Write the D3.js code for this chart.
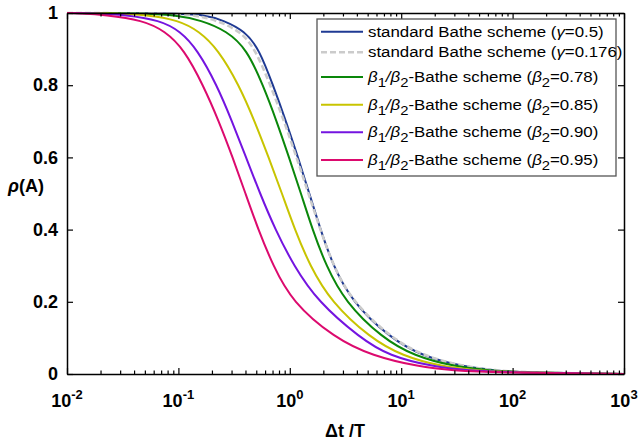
<!DOCTYPE html>
<html>
<head>
<meta charset="utf-8">
<script src="https://cdn.jsdelivr.net/npm/d3@7"></script>
<style>
  body { margin: 0; background: #fff; }
  svg { display: block; font-family: "Liberation Sans", Arial, sans-serif; }
</style>
</head>
<body>
<svg id="chart" width="638" height="445"></svg>
<script>
// spectral radius levels, and the dt/T at which each curve crosses them
const rhoLevels = [1, 0.999, 0.995, 0.98, 0.95, 0.9, 0.8, 0.7, 0.6, 0.5, 0.4, 0.3, 0.2, 0.1, 0.05, 0.02, 0.01, 0.004, 0];

const dtGamma05 = [0.01, 0.093, 0.173, 0.251, 0.396, 0.530, 0.707, 0.925, 1.185, 1.496, 1.887, 2.443, 3.617, 7.935, 15.37, 35.9, 69.5, 125, 1000];
const dtGamma0176 = [0.01, 0.075, 0.14, 0.22, 0.36, 0.49, 0.67, 0.89, 1.15, 1.47, 1.88, 2.45, 3.65, 8.1, 15.8, 37, 71, 128, 1000];
const dtBeta078 = [0.01, 0.0452, 0.0932, 0.160, 0.273, 0.411, 0.575, 0.763, 0.984, 1.26, 1.599, 2.113, 3.13, 6.725, 13.03, 30.4, 62.7, 115, 1000];
const dtBeta085 = [0.01, 0.0251, 0.0525, 0.100, 0.153, 0.226, 0.351, 0.484, 0.646, 0.851, 1.109, 1.514, 2.344, 5.25, 10.2, 23.4, 47.9, 110, 1000];
const dtBeta090 = [0.01, 0.0178, 0.0332, 0.0684, 0.1035, 0.147, 0.222, 0.303, 0.405, 0.540, 0.741, 1.084, 1.791, 4.266, 7.76, 19.5, 39.8, 95, 1000];
const dtBeta095 = [0.01, 0.0131, 0.0219, 0.0479, 0.0759, 0.112, 0.167, 0.231, 0.307, 0.400, 0.521, 0.708, 1.047, 2.512, 5.5, 14.5, 28.8, 72.4, 1000];

const seriesNames = ["gamma05", "gamma0176", "beta078", "beta085", "beta090", "beta095"];
const seriesDt = [dtGamma05, dtGamma0176, dtBeta078, dtBeta085, dtBeta090, dtBeta095];
const seriesColors = ["#1f3a93", "#cbcbcb", "#0a870a", "#c8c400", "#7414e0", "#dc0a6e"];
const gammaLabels = ["0.5", "0.176"];
const beta2Labels = ["0.78", "0.85", "0.90", "0.95"];

const xTickExponents = [-2, -1, 0, 1, 2, 3];
const yTicks = [0, 0.2, 0.4, 0.6, 0.8, 1];

const svg = d3.select("#chart");
const plotLeft = 67, plotRight = 624, plotTop = 13, plotBottom = 374;

const x = d3.scaleLog().domain([1e-2, 1e3]).range([plotLeft, plotRight]);
const y = d3.scaleLinear().domain([0, 1]).range([plotBottom, plotTop]);

const majors = xTickExponents.map(e => Math.pow(10, e));
const minors = [];
xTickExponents.slice(0, -1).forEach(e => {
  for (let k = 2; k < 10; k++) minors.push(k * Math.pow(10, e));
});

// clip for curves
svg.append("clipPath").attr("id", "clip")
  .append("rect")
  .attr("x", plotLeft).attr("y", plotTop - 2)
  .attr("width", plotRight - plotLeft).attr("height", plotBottom - plotTop + 2);

const line = d3.line()
  .x(d => x(d[0]))
  .y(d => y(d[1]))
  .curve(d3.curveBasis);

const curves = svg.append("g").attr("clip-path", "url(#clip)");
seriesDt.forEach((dts, i) => {
  curves.append("path")
    .attr("class", "curve " + seriesNames[i])
    .datum(dts.map((t, j) => [t, rhoLevels[j]]))
    .attr("fill", "none")
    .attr("stroke", seriesColors[i])
    .attr("stroke-width", i === 1 ? 2.6 : 2)
    .attr("stroke-dasharray", i === 1 ? "6,3" : null)
    .attr("d", line);
});

// axes, all ticks pointing inward
function styleAxis(g) {
  g.select(".domain").attr("stroke", "#000").attr("stroke-width", 1.5);
  g.selectAll(".tick line").attr("stroke", "#000").attr("stroke-width", 1.2);
}

svg.append("g")
  .attr("transform", `translate(0,${plotBottom})`)
  .call(d3.axisBottom(x).tickValues(majors).tickSize(-6).tickSizeOuter(0).tickFormat(""))
  .call(styleAxis);
svg.append("g")
  .attr("transform", `translate(0,${plotBottom})`)
  .call(d3.axisBottom(x).tickValues(minors).tickSize(-3.5).tickSizeOuter(0).tickFormat(""))
  .call(g => g.select(".domain").remove())
  .call(styleAxis);
svg.append("g")
  .attr("transform", `translate(0,${plotTop})`)
  .call(d3.axisTop(x).tickValues(majors).tickSize(-6).tickSizeOuter(0).tickFormat(""))
  .call(styleAxis);
svg.append("g")
  .attr("transform", `translate(0,${plotTop})`)
  .call(d3.axisTop(x).tickValues(minors).tickSize(-3.5).tickSizeOuter(0).tickFormat(""))
  .call(g => g.select(".domain").remove())
  .call(styleAxis);

svg.append("g")
  .attr("transform", `translate(${plotLeft},0)`)
  .call(d3.axisLeft(y).tickValues(yTicks).tickSize(-6).tickSizeOuter(0).tickPadding(9)
    .tickFormat(d => d === 0 || d === 1 ? d3.format("d")(d) : d3.format(".1f")(d)))
  .call(styleAxis)
  .call(g => g.selectAll(".tick text")
    .attr("fill", "#000")
    .attr("font-size", 18)
    .attr("font-weight", "bold")
    .attr("font-family", "Liberation Sans, Arial, sans-serif"));
svg.append("g")
  .attr("transform", `translate(${plotRight},0)`)
  .call(d3.axisRight(y).tickValues(yTicks).tickSize(-6).tickSizeOuter(0).tickFormat(""))
  .call(styleAxis);

// x tick labels 10^n
const xLabels = svg.append("g")
  .attr("font-size", 18).attr("font-weight", "bold").attr("fill", "#000");
xTickExponents.forEach(e => {
  const t = xLabels.append("text")
    .attr("x", x(Math.pow(10, e)))
    .attr("y", 407)
    .attr("text-anchor", "middle");
  t.append("tspan").text("10");
  t.append("tspan").attr("dy", -8).attr("font-size", 13).text(e);
});

// axis titles
svg.append("text")
  .attr("x", 345).attr("y", 437)
  .attr("text-anchor", "middle")
  .attr("font-size", 18).attr("font-weight", "bold")
  .text("\u0394t /T");

const yTitle = svg.append("text")
  .attr("x", 8).attr("y", 192)
  .attr("font-size", 18).attr("font-weight", "bold");
yTitle.append("tspan").attr("font-style", "italic").text("\u03C1");
yTitle.append("tspan").text("(A)");

// legend
const legend = svg.append("g");
legend.append("rect")
  .attr("x", 317).attr("y", 19)
  .attr("width", 299).attr("height", 157)
  .attr("fill", "#fff")
  .attr("stroke", "#555")
  .attr("stroke-width", 1.3);

const rowY = [31.7, 52.3, 77, 104.7, 132.3, 160];
seriesDt.forEach((dts, i) => {
  legend.append("line")
    .attr("x1", 321).attr("x2", 363)
    .attr("y1", rowY[i]).attr("y2", rowY[i])
    .attr("stroke", seriesColors[i])
    .attr("stroke-width", i === 1 ? 2.6 : 2)
    .attr("stroke-dasharray", i === 1 ? "6,3" : null);

  const t = legend.append("text")
    .attr("transform", `translate(368,${rowY[i] + 5}) scale(1.14,1)`)
    .attr("font-size", 14.8).attr("fill", "#000");
  if (i < 2) {
    t.append("tspan").text("standard Bathe scheme (");
    t.append("tspan").attr("font-style", "italic").text("\u03B3");
    t.append("tspan").text("=" + gammaLabels[i] + ")");
  } else {
    t.append("tspan").attr("font-style", "italic").text("\u03B2");
    t.append("tspan").attr("dy", 5).attr("font-size", 13).text("1");
    t.append("tspan").attr("dy", -5).attr("font-style", "italic").text("/\u03B2");
    t.append("tspan").attr("dy", 5).attr("font-size", 13).text("2");
    t.append("tspan").attr("dy", -5).text("-Bathe scheme (");
    t.append("tspan").attr("font-style", "italic").text("\u03B2");
    t.append("tspan").attr("dy", 5).attr("font-size", 13).text("2");
    t.append("tspan").attr("dy", -5).text("=" + beta2Labels[i - 2] + ")");
  }
});
</script>
</body>
</html>
